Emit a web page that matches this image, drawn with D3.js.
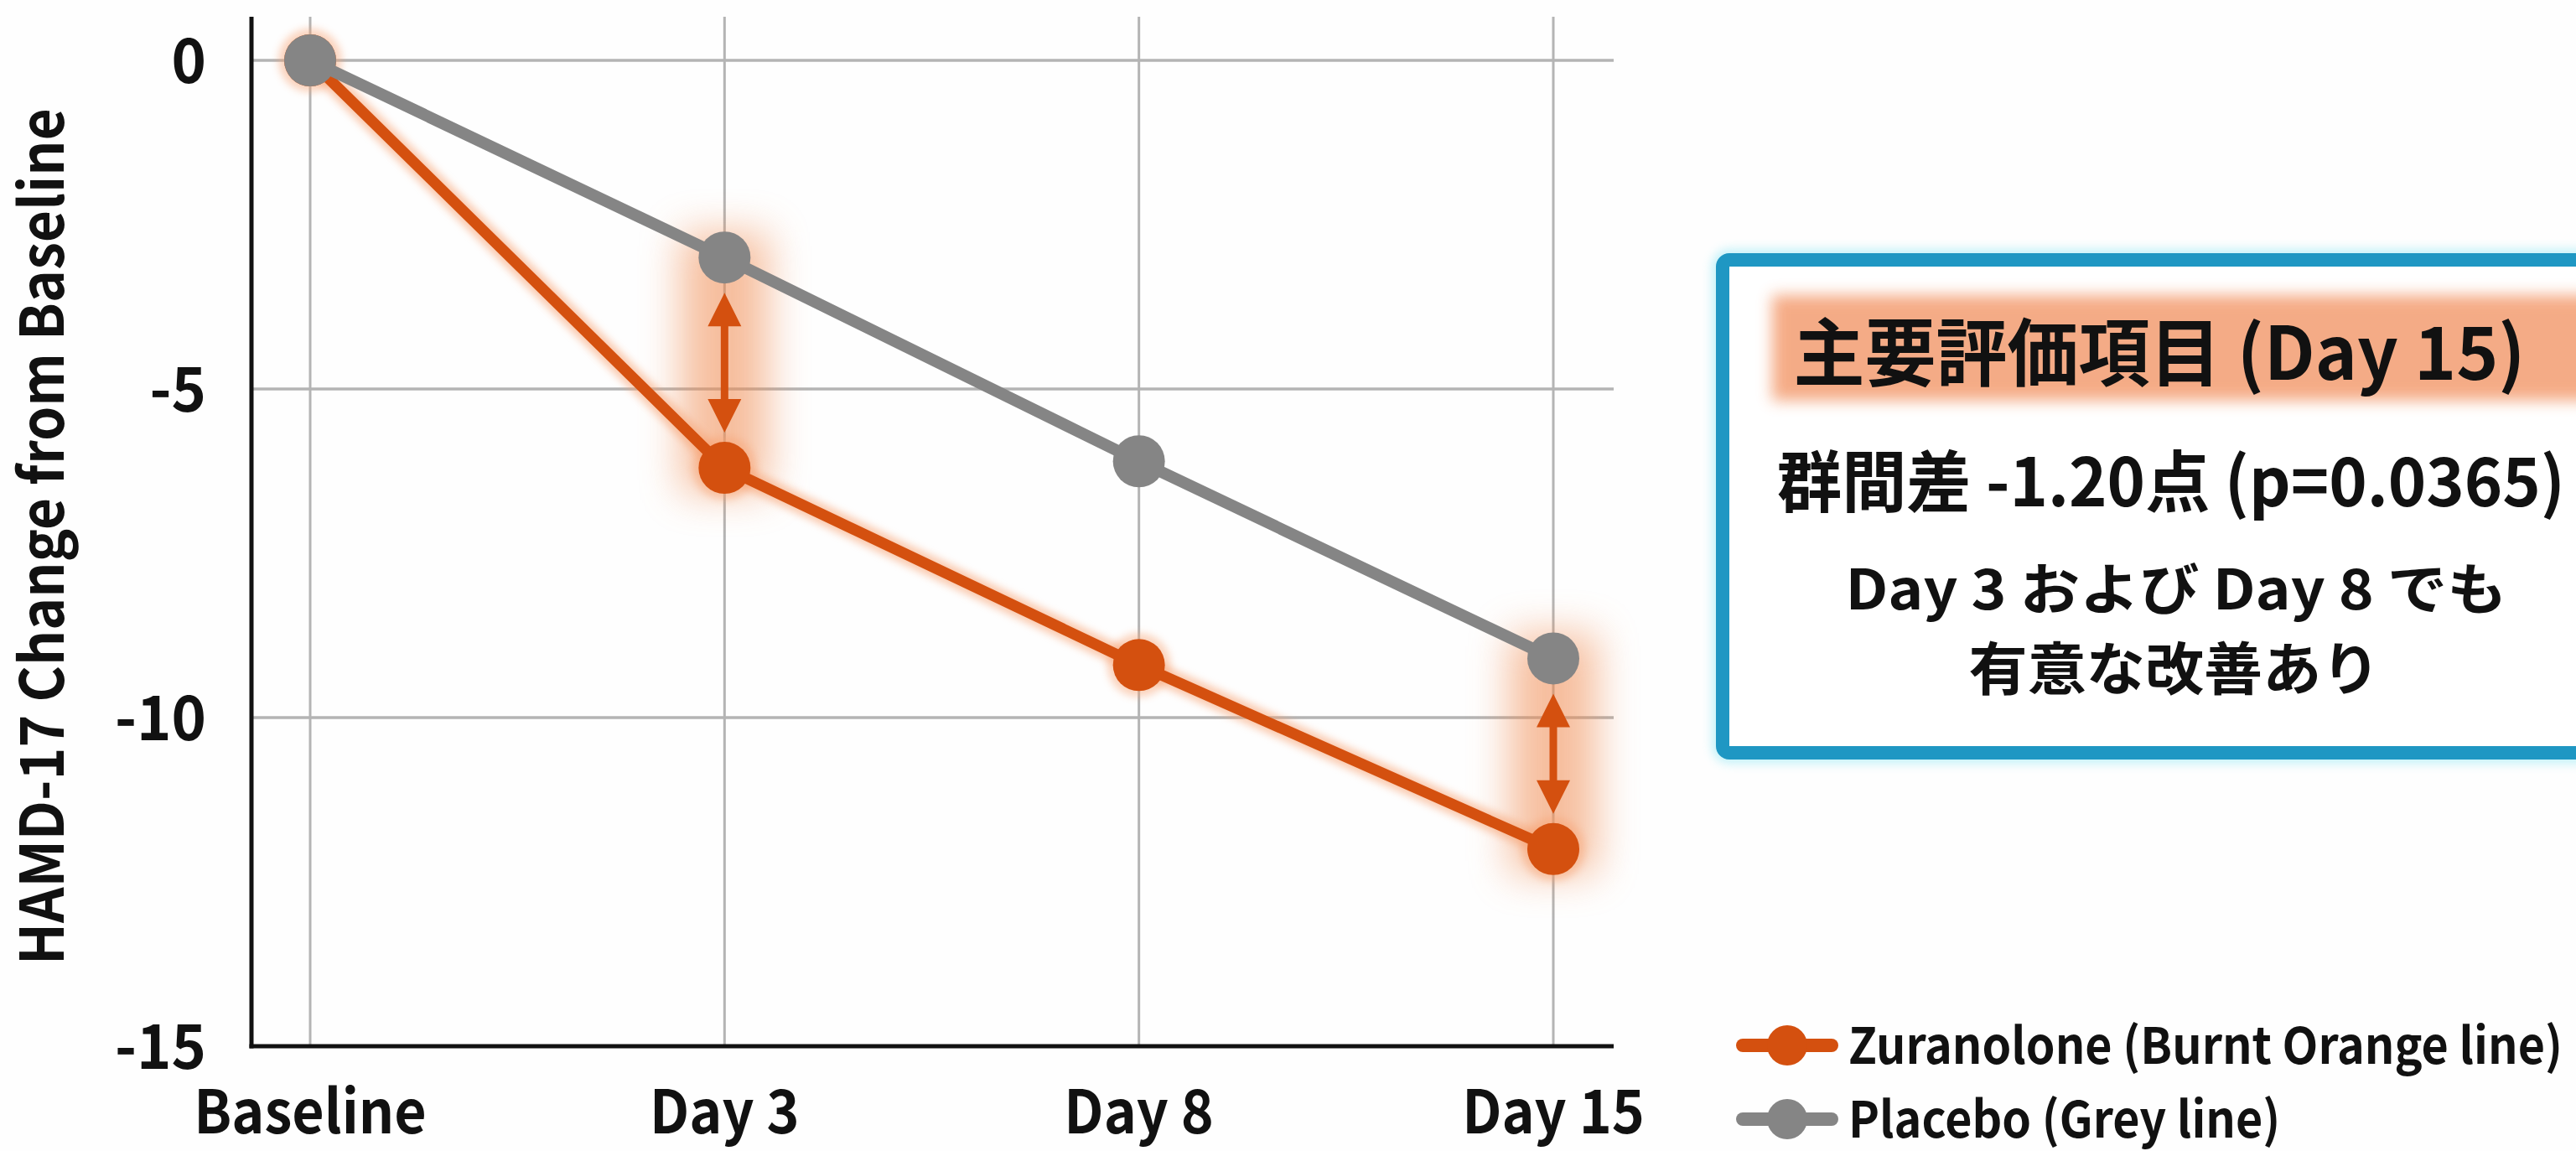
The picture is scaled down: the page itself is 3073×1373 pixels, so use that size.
<!DOCTYPE html>
<html><head><meta charset="utf-8">
<script src="https://cdn.jsdelivr.net/npm/d3@7"></script>
<style>html,body{margin:0;padding:0;background:#fff;overflow:hidden;} svg{display:block;}</style>
</head><body>
<script>
// ---- data ----
const categories = ["Baseline", "Day 3", "Day 8", "Day 15"];
const zuranolone = [0, -6.2, -9.2, -12.0];
const placebo = [0, -3.0, -6.1, -9.1];
const yTicks = [0, -5, -10, -15];
const yTickLabels = ["0", "-5", "-10", "-15"];
const highlighted = ["Day 3", "Day 15"];
const seriesNames = ["Zuranolone (Burnt Orange line)", "Placebo (Grey line)"];
const yLabel = "HAMD-17 Change from Baseline";
const boxTitle = "主要評価項目 (Day 15)";
const boxLines = ["群間差 -1.20点 (p=0.0365)", "Day 3 および Day 8 でも", "有意な改善あり"];

// ---- style ----
const W = 3073, H = 1373;
const ORANGE = "#d4500f", GREY = "#858585", GRID = "#b4b4b4";
const FONT = "'Noto Sans CJK JP','Noto Sans',sans-serif";

const svg = d3.select("body").append("svg").attr("width", W).attr("height", H);
const defs = svg.append("defs");
defs.append("filter").attr("id", "bandBlur").attr("x", "-150%").attr("y", "-100%").attr("width", "400%").attr("height", "300%")
  .append("feGaussianBlur").attr("stdDeviation", 24);
defs.append("filter").attr("id", "lineGlow").attr("x", "-20%").attr("y", "-20%").attr("width", "140%").attr("height", "140%")
  .append("feGaussianBlur").attr("stdDeviation", 5);
defs.append("filter").attr("id", "titleBlur").attr("x", "-20%").attr("y", "-40%").attr("width", "140%").attr("height", "180%")
  .append("feGaussianBlur").attr("stdDeviation", 9);
defs.append("filter").attr("id", "boxGlow").attr("x", "-10%").attr("y", "-10%").attr("width", "120%").attr("height", "120%")
  .append("feGaussianBlur").attr("stdDeviation", 6);

svg.append("rect").attr("width", W).attr("height", H).attr("fill", "#fefefe");

const plotL = 300, plotR = 1925, plotTop = 20;
const x = d3.scalePoint().domain(categories).range([370, 1853]);
const y = d3.scaleLinear().domain([-15, 0]).range([1248, 72]);

function condense(sel, factor) {
  sel.each(function () {
    const len = this.getComputedTextLength();
    d3.select(this).attr("textLength", len * factor).attr("lengthAdjust", "spacingAndGlyphs");
  });
}
function fitText(sel, w) { sel.attr("textLength", w).attr("lengthAdjust", "spacingAndGlyphs"); }

// grid
const grid = svg.append("g");
grid.selectAll(".vg").data(categories).join("line")
  .attr("x1", d => x(d)).attr("x2", d => x(d)).attr("y1", plotTop).attr("y2", y(-15))
  .attr("stroke", GRID).attr("stroke-width", 3);
grid.selectAll(".hg").data(yTicks.filter(t => t !== -15)).join("line")
  .attr("x1", plotL).attr("x2", plotR).attr("y1", d => y(d)).attr("y2", d => y(d))
  .attr("stroke", GRID).attr("stroke-width", 3.5);

// highlight glow bands
const zMap = new Map(categories.map((c, i) => [c, zuranolone[i]]));
const pMap = new Map(categories.map((c, i) => [c, placebo[i]]));
svg.append("g").selectAll("rect").data(highlighted).join("rect")
  .attr("x", d => x(d) - 52).attr("width", 104)
  .attr("y", d => y(pMap.get(d)) - 30)
  .attr("height", d => y(zMap.get(d)) - y(pMap.get(d)) + 60)
  .attr("fill", "#f08a50").attr("opacity", 0.55)
  .attr("filter", "url(#bandBlur)");

// axes
svg.append("line").attr("x1", plotL).attr("x2", plotL).attr("y1", plotTop).attr("y2", y(-15) + 2.5)
  .attr("stroke", "#111").attr("stroke-width", 5);
svg.append("line").attr("x1", plotL - 2.5).attr("x2", plotR).attr("y1", y(-15)).attr("y2", y(-15))
  .attr("stroke", "#111").attr("stroke-width", 5);

// y tick labels
svg.append("g").selectAll("text").data(yTicks).join("text")
  .attr("x", 246).attr("y", d => y(d)).attr("dy", "0.36em")
  .attr("text-anchor", "end").attr("font-family", FONT).attr("font-weight", 700)
  .attr("font-size", 74).attr("fill", "#111").text((d, i) => yTickLabels[i])
  .call(condense, 0.95);

// x tick labels
svg.append("g").selectAll("text").data(categories).join("text")
  .attr("x", d => x(d)).attr("y", 1352)
  .attr("text-anchor", "middle").attr("font-family", FONT).attr("font-weight", 700)
  .attr("font-size", 72).attr("fill", "#111").text(d => d)
  .call(condense, 0.92);

// y axis label
svg.append("text").attr("transform", "translate(76,640) rotate(-90)")
  .attr("text-anchor", "middle").attr("font-family", FONT).attr("font-weight", 700)
  .attr("font-size", 72).attr("fill", "#111").text(yLabel).call(fitText, 1022);

// series
const line = d3.line().x((d, i) => x(categories[i])).y(d => y(d));
svg.append("path").datum(zuranolone).attr("d", line).attr("fill", "none")
  .attr("stroke", "#f7a070").attr("stroke-width", 24).attr("opacity", 0.55)
  .attr("stroke-linejoin", "round").attr("filter", "url(#lineGlow)");
svg.append("g").selectAll("circle").data(zuranolone).join("circle")
  .attr("cx", (d, i) => x(categories[i])).attr("cy", d => y(d)).attr("r", 38)
  .attr("fill", "#f7a070").attr("opacity", 0.45).attr("filter", "url(#lineGlow)");

function drawSeries(vals, color, w) {
  svg.append("path").datum(vals).attr("d", line).attr("fill", "none")
    .attr("stroke", color).attr("stroke-width", w).attr("stroke-linejoin", "round");
  svg.append("g").selectAll("circle").data(vals).join("circle")
    .attr("cx", (d, i) => x(categories[i])).attr("cy", d => y(d)).attr("r", 31)
    .attr("fill", color);
}
drawSeries(zuranolone, ORANGE, 13);
drawSeries(placebo, GREY, 14);

// double arrows
const arrowPath = (cx, y1, y2) => {
  const hw = 20, hl = 40, sw = 4.5;
  return `M${cx},${y1} L${cx + hw},${y1 + hl} L${cx + sw},${y1 + hl} L${cx + sw},${y2 - hl} L${cx + hw},${y2 - hl} L${cx},${y2} L${cx - hw},${y2 - hl} L${cx - sw},${y2 - hl} L${cx - sw},${y1 + hl} L${cx - hw},${y1 + hl} Z`;
};
svg.append("g").selectAll("path").data(highlighted).join("path")
  .attr("d", d => arrowPath(x(d), y(pMap.get(d)) + 42, y(zMap.get(d)) - 42))
  .attr("fill", ORANGE);

// info box
const box = svg.append("g");
box.append("rect").attr("x", 2055).attr("y", 310).attr("width", 1100).attr("height", 588).attr("rx", 8)
  .attr("fill", "none").attr("stroke", "#7fe3f2").attr("stroke-width", 26).attr("opacity", 0.45)
  .attr("filter", "url(#boxGlow)");
box.append("rect").attr("x", 2055).attr("y", 310).attr("width", 1100).attr("height", 588).attr("rx", 8)
  .attr("fill", "#ffffff").attr("stroke", "#1f97c3").attr("stroke-width", 16);
box.append("rect").attr("x", 2114).attr("y", 352).attr("width", 1050).attr("height", 126)
  .attr("fill", "#f4a47b").attr("opacity", 0.92).attr("filter", "url(#titleBlur)");

box.append("text").attr("x", 2576).attr("y", 421).attr("dy", "0.36em")
  .attr("text-anchor", "middle").attr("font-family", FONT).attr("font-weight", 700)
  .attr("font-size", 88).attr("fill", "#111").text(boxTitle).call(fitText, 873);
const lineSpec = [
  { cx: 2590, cy: 575, fs: 80, w: 940 },
  { cx: 2596, cy: 703, fs: 66, w: 789 },
  { cx: 2594, cy: 799, fs: 68, w: 491 }
];
box.selectAll(".bl").data(boxLines).join("text")
  .attr("x", (d, i) => lineSpec[i].cx).attr("y", (d, i) => lineSpec[i].cy).attr("dy", "0.36em")
  .attr("text-anchor", "middle").attr("font-family", FONT).attr("font-weight", 700)
  .attr("font-size", (d, i) => lineSpec[i].fs).attr("fill", "#111").text(d => d)
  .each(function (d, i) { d3.select(this).call(fitText, lineSpec[i].w); });

// legend
const legColors = [ORANGE, GREY];
const leg = svg.append("g").selectAll("g").data(seriesNames).join("g")
  .attr("transform", (d, i) => `translate(0,${1247 + i * 88})`);
leg.append("line").attr("x1", 2079).attr("x2", 2185).attr("y1", 0).attr("y2", 0)
  .attr("stroke", (d, i) => legColors[i]).attr("stroke-width", 16).attr("stroke-linecap", "round");
leg.append("circle").attr("cx", 2132).attr("cy", 0).attr("r", 24).attr("fill", (d, i) => legColors[i]);
const legText = leg.append("text").attr("x", 2205).attr("y", 0).attr("dy", "0.36em")
  .attr("font-family", FONT).attr("font-weight", 700).attr("font-size", 60).attr("fill", "#111")
  .text(d => d);
const legFactor = 852 / legText.node().getComputedTextLength();
legText.call(condense, legFactor);
</script>
</body></html>
